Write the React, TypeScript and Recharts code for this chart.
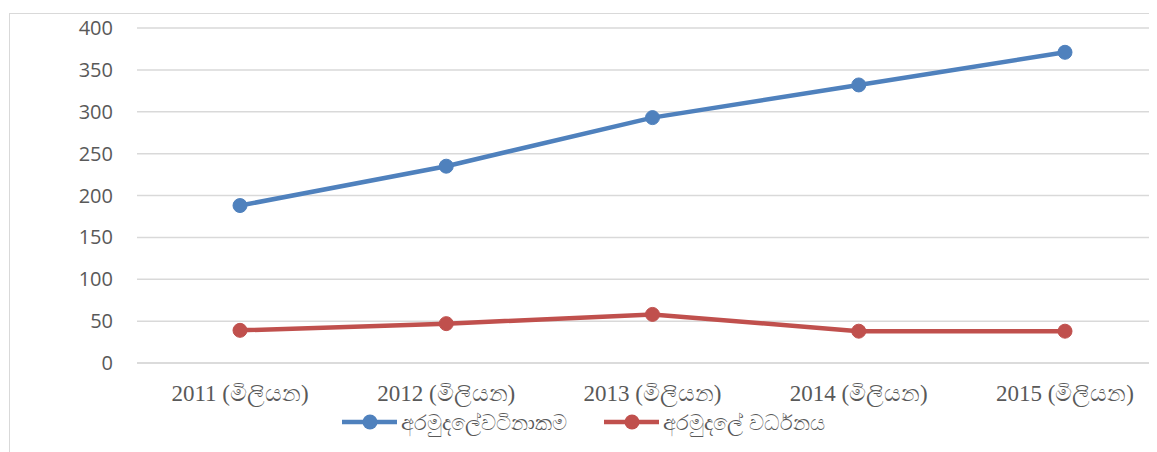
import { LineChart, Line, XAxis, YAxis, CartesianGrid, Legend } from 'recharts'

// Office-style palette
const BLUE = '#4F81BD'
const RED = '#C0504D'
const GRID = '#d9d9d9'
const TEXT = '#595959'

const years = ['2011 (මිලියන)', '2012 (මිලියන)', '2013 (මිලියන)', '2014 (මිලියන)', '2015 (මිලියන)']
const fundValue = [188, 235, 293, 332, 371]
const fundGrowth = [39, 47, 58, 38, 38]
const yTicks = [0, 50, 100, 150, 200, 250, 300, 350, 400]

const SERIES = [
  { key: 'value', name: 'අරමුදලේවටිනාකම', color: BLUE },
  { key: 'growth', name: 'අරමුදලේ වර්ධනය', color: RED },
]

const data = years.map((year, i) => ({ year, value: fundValue[i], growth: fundGrowth[i] }))

function LegendRow() {
  return (
    <div style={{ display: 'flex', justifyContent: 'center', alignItems: 'center', gap: 37 }}>
      {SERIES.map((s) => (
        <div key={s.key} style={{ display: 'flex', alignItems: 'center' }}>
          <svg width={55} height={18} style={{ marginRight: 4 }}>
            <line x1={0} y1={9} x2={55} y2={9} stroke={s.color} strokeWidth={4.5} strokeLinecap="round" />
            <circle cx={28} cy={9} r={7.5} fill={s.color} />
          </svg>
          <span style={{ fontSize: 21, color: TEXT, fontFamily: '"Noto Sans", sans-serif' }}>{s.name}</span>
        </div>
      ))}
    </div>
  )
}

export default function App() {
  return (
    <div style={{ position: 'relative', width: 1149, height: 444, overflow: 'hidden' }}>
      <div
        style={{
          position: 'absolute',
          left: 1,
          top: 5,
          width: 1300,
          height: 600,
          border: `1.5px solid ${GRID}`,
        }}
      />
      <div style={{ position: 'absolute', left: 0, top: 0 }}>
        <LineChart width={1170} height={444} data={data} margin={{ top: 20, right: 10, bottom: 25, left: 0 }}>
          <CartesianGrid vertical={false} stroke={GRID} strokeWidth={1.5} />
          <XAxis
            dataKey="year"
            height={40}
            padding={{ left: 103, right: 103 }}
            axisLine={{ stroke: GRID, strokeWidth: 1.5 }}
            tickLine={false}
            tickMargin={16}
            interval={0}
            tick={{ fontSize: 23, fill: TEXT, fontFamily: '"Liberation Serif", serif' }}
          />
          <YAxis
            width={129}
            domain={[0, 400]}
            ticks={yTicks}
            axisLine={false}
            tickLine={false}
            tickMargin={18}
            tick={{ fontSize: 20, fill: TEXT, fontFamily: '"Open Sans", sans-serif' }}
          />
          <Legend
            content={<LegendRow />}
            wrapperStyle={{ position: 'absolute', left: 0, top: 400, width: 1151, height: 24 }}
          />
          {SERIES.map((s) => (
            <Line
              key={s.key}
              dataKey={s.key}
              name={s.name}
              stroke={s.color}
              strokeWidth={4.5}
              dot={{ r: 7, fill: s.color, stroke: s.color, strokeWidth: 1 }}
              activeDot={false}
              isAnimationActive={false}
            />
          ))}
        </LineChart>
      </div>
    </div>
  )
}
